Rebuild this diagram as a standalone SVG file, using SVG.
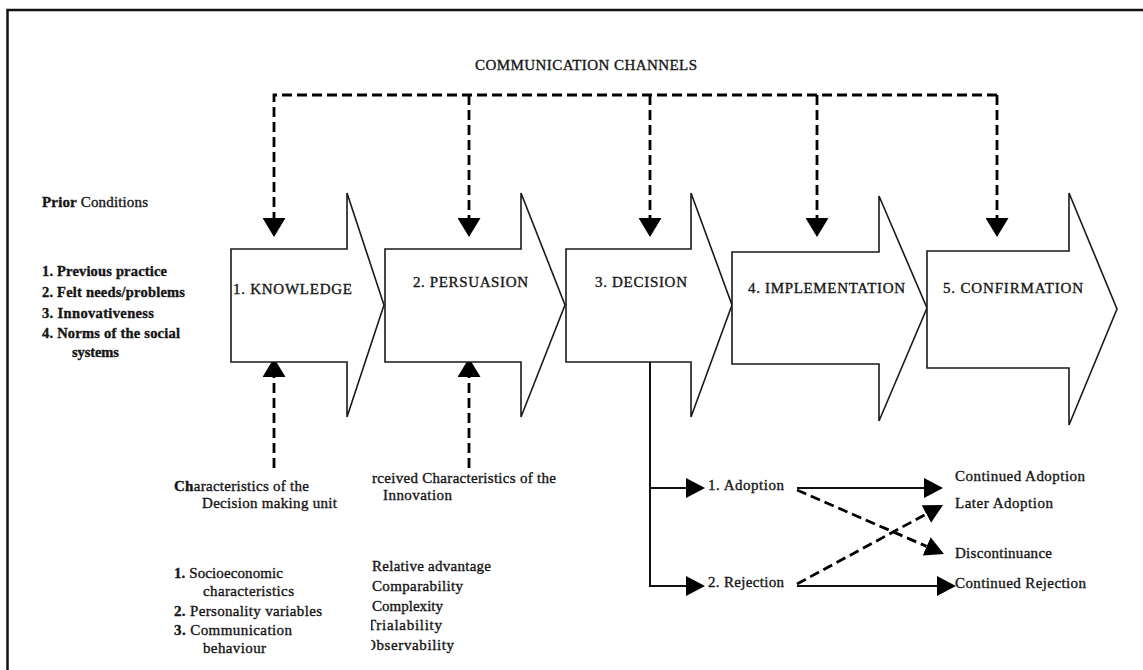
<svg xmlns="http://www.w3.org/2000/svg" width="1143" height="670" viewBox="0 0 1143 670">
  <defs>
    <style>
      .t{font-family:"Liberation Serif","Times New Roman",serif;font-size:15px;fill:#151515;stroke:#151515;stroke-width:0.35}
      .b{font-weight:bold}
      .pl{font-size:14.5px}
      .stage{fill:#fff;stroke:#1a1a1a;stroke-width:1.6;stroke-linejoin:miter}
      .dash{fill:none;stroke:#000;stroke-width:2.8;stroke-dasharray:10 5}
      .solid{fill:none;stroke:#111;stroke-width:2}
    </style>
    <!-- large filled head, line ends at the base -->
    <marker id="big" markerUnits="userSpaceOnUse" markerWidth="20" markerHeight="23" refX="0" refY="11.5" orient="auto" viewBox="0 0 20 23">
      <path d="M0,0 L19,11.5 L0,23 z" fill="#000"/>
    </marker>
    <!-- smaller filled head for the outcome branches -->
    <marker id="sm" markerUnits="userSpaceOnUse" markerWidth="20" markerHeight="20" refX="0" refY="10" orient="auto" viewBox="0 0 20 20">
      <path d="M0,0 L19,10 L0,20 z" fill="#000"/>
    </marker>
    <clipPath id="colClip">
      <rect x="371" y="440" width="300" height="230"/>
    </clipPath>
  </defs>

  <rect width="1143" height="670" fill="#fff"/>
  <!-- outer frame -->
  <rect x="7.5" y="10" width="1200" height="700" fill="none" stroke="#111" stroke-width="2.5"/>

  <g id="connectors">
    <!-- communication channels -->
    <path class="dash" d="M997,95 H274 V218" marker-end="url(#big)"/>
    <path class="dash" d="M469,95 V218" marker-end="url(#big)"/>
    <path class="dash" d="M650,95 V218" marker-end="url(#big)"/>
    <path class="dash" d="M817,95 V218" marker-end="url(#big)"/>
    <path class="dash" d="M997,95 V218" marker-end="url(#big)"/>
    <!-- characteristics feeding knowledge and persuasion -->
    <path class="dash" d="M274,468 V377" marker-end="url(#big)"/>
    <path class="dash" d="M469,468 V377" marker-end="url(#big)"/>
    <!-- decision outcomes -->
    <path class="solid" d="M650,360 V586 H686"/>
    <path class="solid" d="M650,586 H686" marker-end="url(#sm)"/>
    <path class="solid" d="M650,488 H686" marker-end="url(#sm)"/>
    <path class="solid" d="M797,488 H924" marker-end="url(#sm)"/>
    <path class="solid" d="M797,586 H937" marker-end="url(#sm)"/>
    <path class="dash" d="M797,490 L926.6,546.4" marker-end="url(#sm)"/>
    <path class="dash" d="M797,584 L926.3,514" marker-end="url(#sm)"/>
  </g>

  <g id="title">
    <text class="t" x="475" y="70" textLength="222" lengthAdjust="spacing">COMMUNICATION CHANNELS</text>
  </g>

  <g id="prior-conditions">
    <text class="t" x="42" y="207" textLength="106" lengthAdjust="spacing"><tspan class="b">Prior</tspan> Conditions</text>
    <text class="t b pl" x="42" y="276" textLength="125" lengthAdjust="spacing">1. Previous practice</text>
    <text class="t b pl" x="42" y="297" textLength="143" lengthAdjust="spacing">2. Felt needs/problems</text>
    <text class="t b pl" x="42" y="318" textLength="112" lengthAdjust="spacing">3. Innovativeness</text>
    <text class="t b pl" x="42" y="338" textLength="138" lengthAdjust="spacing">4. Norms of the social</text>
    <text class="t b pl" x="72" y="357" textLength="47" lengthAdjust="spacing">systems</text>
  </g>

  <g id="knowledge">
    <path class="stage" d="M231,249 H347 V193 L384,305 L347,417 V362 H231 Z"/>
    <text class="t" x="233" y="294" textLength="119" lengthAdjust="spacing">1.  KNOWLEDGE</text>
  </g>
  <g id="persuasion">
    <path class="stage" d="M385,249 H521 V193 L565,305 L521,417 V362 H385 Z"/>
    <text class="t" x="413" y="287" textLength="115" lengthAdjust="spacing">2.  PERSUASION</text>
  </g>
  <g id="decision">
    <path class="stage" d="M566,249 H691 V193 L732,305 L691,417 V362 H566 Z"/>
    <text class="t" x="595" y="287" textLength="92" lengthAdjust="spacing">3.  DECISION</text>
  </g>
  <g id="implementation">
    <path class="stage" d="M732,252 H879 V196 L927,308 L879,421 V364 H732 Z"/>
    <text class="t" x="748" y="293" textLength="157" lengthAdjust="spacing">4. IMPLEMENTATION</text>
  </g>
  <g id="confirmation">
    <path class="stage" d="M927,251 H1069 V193 L1117,309 L1069,425 V368 H927 Z"/>
    <text class="t" x="943" y="293" textLength="140" lengthAdjust="spacing">5.  CONFIRMATION</text>
  </g>

  <g id="decision-unit">
    <text class="t" x="174" y="491" textLength="135" lengthAdjust="spacing"><tspan class="b">Ch</tspan>aracteristics of the</text>
    <text class="t" x="202" y="508" textLength="135" lengthAdjust="spacing">Decision making unit</text>
    <text class="t" x="174" y="578" textLength="109" lengthAdjust="spacing"><tspan class="b">1.</tspan> Socioeconomic</text>
    <text class="t" x="203" y="596" textLength="91" lengthAdjust="spacing">characteristics</text>
    <text class="t" x="174" y="616" textLength="148" lengthAdjust="spacing"><tspan class="b">2.</tspan> Personality variables</text>
    <text class="t" x="174" y="635" textLength="118" lengthAdjust="spacing"><tspan class="b">3.</tspan> Communication</text>
    <text class="t" x="203" y="653" textLength="63" lengthAdjust="spacing">behaviour</text>
  </g>

  <g id="innovation" clip-path="url(#colClip)">
    <text class="t" x="372" y="483" textLength="184" lengthAdjust="spacing">rceived Characteristics of the</text>
    <text class="t" x="383" y="500" textLength="69" lengthAdjust="spacing">Innovation</text>
    <text class="t" x="372" y="571" textLength="119" lengthAdjust="spacing">Relative advantage</text>
    <text class="t" x="372" y="591" textLength="91" lengthAdjust="spacing">Comparability</text>
    <text class="t" x="372" y="611" textLength="71" lengthAdjust="spacing">Complexity</text>
    <text class="t" x="367" y="630" textLength="75" lengthAdjust="spacing">Trialability</text>
    <text class="t" x="365" y="650" textLength="89" lengthAdjust="spacing">Observability</text>
  </g>

  <g id="adoption">
    <text class="t" x="708" y="490" textLength="76" lengthAdjust="spacing">1. Adoption</text>
  </g>
  <g id="rejection">
    <text class="t" x="708" y="587" textLength="76" lengthAdjust="spacing">2. Rejection</text>
  </g>
  <g id="continued-adoption">
    <text class="t" x="955" y="481" textLength="130" lengthAdjust="spacing">Continued Adoption</text>
  </g>
  <g id="later-adoption">
    <text class="t" x="955" y="508" textLength="98" lengthAdjust="spacing">Later Adoption</text>
  </g>
  <g id="discontinuance">
    <text class="t" x="955" y="558" textLength="97" lengthAdjust="spacing">Discontinuance</text>
  </g>
  <g id="continued-rejection">
    <text class="t" x="955" y="588" textLength="131" lengthAdjust="spacing">Continued Rejection</text>
  </g>
</svg>
